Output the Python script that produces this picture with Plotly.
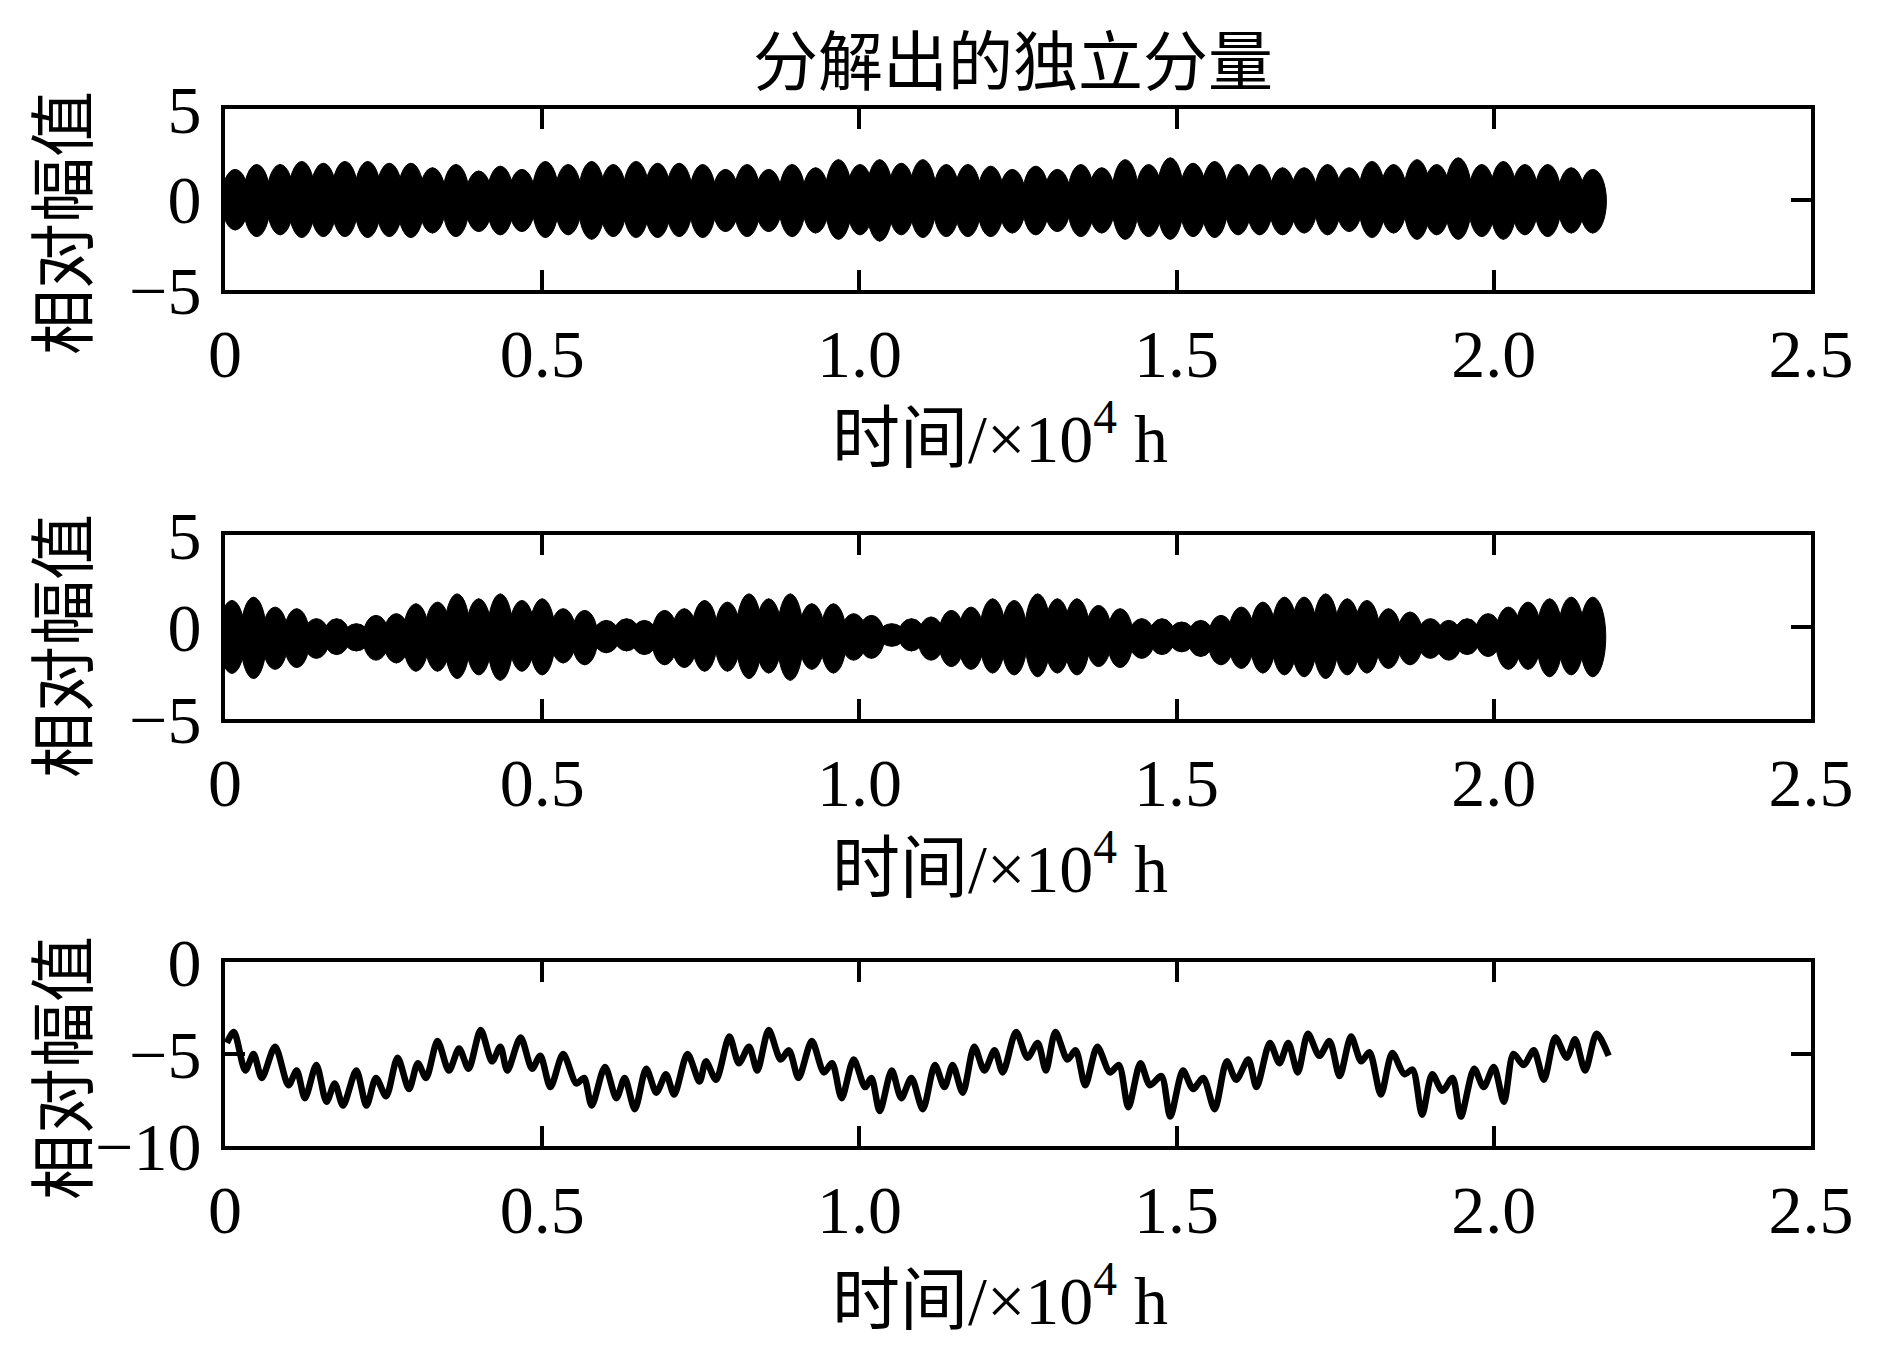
import plotly.graph_objects as go

# ---------------- data ----------------
x_ticks = [0, 0.5, 1.0, 1.5, 2.0, 2.5]
x_ticklabels = ["0", "0.5", "1.0", "1.5", "2.0", "2.5"]
y_ticks_12 = [-5, 0, 5]
y_ticklabels_12 = ["\u22125", "0", "5"]
y_ticks_3 = [-10, -5, 0]
y_ticklabels_3 = ["\u221210", "\u22125", "0"]

title_text = "分解出的独立分量"
y_title = "相对幅值"
x_title = "时间/×10<sup>4</sup> h"

# component 1: dense oscillation -> each visible lobe: time, upper peak, lower peak
p1_x = [-0.018, 0.016, 0.050, 0.087, 0.121, 0.155, 0.189, 0.225, 0.259, 0.293, 0.327, 0.364,
        0.400, 0.434, 0.468, 0.505, 0.541, 0.578, 0.612, 0.648, 0.682, 0.716, 0.753,
        0.789, 0.823, 0.857, 0.894, 0.931, 0.967, 1.001, 1.032, 1.066, 1.100, 1.137,
        1.171, 1.207, 1.241, 1.278, 1.312, 1.349, 1.382, 1.419, 1.456, 1.490, 1.526,
        1.560, 1.597, 1.631, 1.667, 1.701, 1.738, 1.772, 1.808, 1.842, 1.879, 1.910,
        1.944, 1.981, 2.015, 2.049, 2.085, 2.122, 2.156]
p1_up = [1.60, 1.66, 1.93, 1.93, 2.10, 2.00, 2.10, 2.10, 2.00, 2.00, 1.75, 1.93,
         1.57, 1.84, 1.66, 2.10, 1.93, 2.10, 1.93, 2.10, 2.00, 2.00, 1.93,
         1.66, 1.93, 1.66, 1.93, 1.75, 2.20, 1.93, 2.20, 2.00, 2.20, 1.93,
         1.93, 1.84, 1.66, 1.84, 1.66, 1.93, 1.75, 2.20, 1.93, 2.30, 2.00,
         2.10, 1.93, 1.93, 1.75, 1.75, 1.93, 1.75, 2.10, 1.93, 2.20, 1.93,
         2.30, 1.93, 2.10, 1.93, 1.93, 1.75, 1.66]
p1_lo = [-1.60, -1.68, -2.05, -1.95, -2.10, -2.05, -2.05, -2.10, -2.05, -2.10, -1.85, -2.05,
         -1.77, -1.95, -1.77, -2.10, -1.95, -2.20, -2.05, -2.10, -2.10, -2.05, -2.10,
         -1.77, -2.05, -1.77, -2.05, -1.85, -2.20, -1.95, -2.30, -1.95, -2.10, -2.05,
         -2.05, -2.05, -1.85, -1.95, -1.77, -2.05, -1.85, -2.20, -2.05, -2.20, -2.05,
         -2.10, -1.95, -1.95, -1.95, -1.85, -1.95, -1.77, -2.10, -1.85, -2.20, -1.95,
         -2.20, -2.05, -2.20, -1.95, -2.05, -1.85, -1.85]

# component 2
p2_x = [-0.022, 0.011, 0.045, 0.079, 0.113, 0.144, 0.176, 0.207, 0.238, 0.270, 0.301, 0.335, 0.366,
        0.400, 0.434, 0.468, 0.500, 0.533, 0.567, 0.601, 0.633, 0.661, 0.693, 0.724, 0.756,
        0.792, 0.826, 0.857, 0.891, 0.925, 0.959, 0.991, 1.019, 1.051, 1.082, 1.113, 1.145,
        1.176, 1.210, 1.244, 1.281, 1.312, 1.343, 1.377, 1.411, 1.445, 1.477, 1.508,
        1.538, 1.570, 1.602, 1.636, 1.670, 1.701, 1.735, 1.769, 1.800, 1.834, 1.868, 1.900,
        1.929, 1.958, 1.991, 2.023, 2.054, 2.088, 2.122, 2.156]
p2_up = [1.30, 1.44, 1.62, 1.08, 0.99, 0.45, 0.45, 0.18, 0.63, 0.72, 1.26, 1.35, 1.80,
         1.53, 1.80, 1.44, 1.53, 0.99, 0.90, 0.36, 0.45, 0.36, 0.90, 0.99, 1.44,
         1.35, 1.80, 1.53, 1.80, 1.26, 1.26, 0.72, 0.63, 0.18, 0.45, 0.54, 0.90,
         1.08, 1.53, 1.44, 1.80, 1.53, 1.53, 1.17, 0.99, 0.45, 0.45, 0.27,
         0.36, 0.63, 1.08, 1.35, 1.62, 1.62, 1.80, 1.53, 1.44, 0.99, 0.81, 0.45,
         0.36, 0.45, 0.72, 1.08, 1.35, 1.53, 1.62, 1.62]
p2_lo = [-2.40, -2.52, -2.80, -2.30, -2.20, -1.70, -1.50, -1.30, -1.80, -1.95, -2.40, -2.40, -2.80,
         -2.60, -2.90, -2.40, -2.60, -1.95, -2.05, -1.40, -1.30, -1.50, -2.05, -2.20, -2.40,
         -2.40, -2.80, -2.50, -2.90, -2.30, -2.50, -1.80, -1.70, -1.05, -1.30, -1.80, -2.15,
         -2.30, -2.50, -2.60, -2.70, -2.50, -2.60, -2.15, -2.20, -1.70, -1.50, -1.35,
         -1.60, -2.05, -2.25, -2.50, -2.60, -2.70, -2.80, -2.60, -2.50, -2.25, -2.05, -1.70,
         -1.80, -1.50, -1.60, -2.30, -2.30, -2.70, -2.60, -2.70]

# component 3: traced extrema of the line
p3_x = [0.003, 0.014, 0.032, 0.045, 0.058, 0.079, 0.100, 0.113, 0.126, 0.144,
        0.160, 0.173, 0.186, 0.207, 0.223, 0.238, 0.254, 0.272, 0.290, 0.304,
        0.317, 0.335, 0.353, 0.369, 0.384, 0.403, 0.421, 0.434, 0.445, 0.466,
        0.484, 0.497, 0.513, 0.533, 0.554, 0.566, 0.578, 0.599, 0.617, 0.630,
        0.646, 0.664, 0.680, 0.695, 0.708, 0.729, 0.748,
        0.758, 0.774, 0.795, 0.810, 0.826, 0.839, 0.857, 0.876, 0.889, 0.904,
        0.925, 0.944, 0.957, 0.972, 0.991, 1.009, 1.019, 1.032, 1.051, 1.066,
        1.082, 1.100, 1.119, 1.134, 1.147, 1.163, 1.181, 1.197, 1.213, 1.226,
        1.247, 1.265, 1.281, 1.294, 1.309, 1.328, 1.341, 1.356, 1.375, 1.395,
        1.409, 1.424, 1.443, 1.458, 1.476, 1.490, 1.510, 1.526,
        1.542, 1.560, 1.579, 1.594, 1.613, 1.626, 1.647, 1.662, 1.676, 1.691,
        1.707, 1.725, 1.741, 1.757, 1.775, 1.791, 1.804, 1.822, 1.840, 1.859,
        1.872, 1.887, 1.903, 1.919, 1.935, 1.948, 1.969, 1.984, 2.000, 2.016,
        2.031, 2.047, 2.063, 2.079, 2.097, 2.115, 2.128, 2.144, 2.162, 2.181]
p3_y = [-4.4, -3.8, -5.9, -5.0, -6.3, -4.6, -6.7, -5.9, -7.4, -5.6,
        -7.6, -6.6, -7.8, -5.9, -7.8, -6.3, -7.3, -5.2, -6.9, -5.5,
        -6.3, -4.3, -5.9, -4.7, -5.8, -3.7, -5.4, -4.6, -5.9, -4.1,
        -5.8, -5.1, -6.8, -5.0, -6.6, -6.3, -7.8, -5.7, -7.4, -6.3,
        -8.0, -5.8, -7.1, -6.1, -7.2, -5.0, -6.5,
        -5.4, -6.4, -4.05, -5.5, -4.6, -5.9, -3.7, -5.3, -4.8, -6.3,
        -4.3, -6.0, -5.5, -7.4, -5.3, -6.8, -6.3, -8.1, -5.9, -7.4,
        -6.3, -8.0, -5.6, -6.8, -5.6, -7.1, -4.6, -5.9, -4.8, -6.0,
        -3.8, -5.2, -4.4, -5.9, -3.8, -5.3, -4.8, -6.7, -4.6, -6.0,
        -5.6, -7.9, -5.5, -6.7, -6.2, -8.4, -5.9, -6.9,
        -6.3, -8.0, -5.4, -6.4, -5.3, -6.8, -4.4, -5.5, -4.4, -6.0,
        -3.9, -5.1, -4.3, -6.2, -4.05, -5.4, -4.9, -7.2, -4.95, -6.1,
        -5.85, -8.3, -6.1, -7.0, -6.3, -8.4, -5.8, -6.8, -5.7, -7.6,
        -5.0, -5.6, -4.8, -6.4, -4.1, -5.2, -4.2, -5.9, -3.9, -5.1]

assert len(p1_x) == len(p1_up) == len(p1_lo)
assert len(p2_x) == len(p2_up) == len(p2_lo)
assert len(p3_x) == len(p3_y)

# ---------------- styling ----------------
SERIF = "Liberation Serif, Noto Sans CJK SC, serif"
CJK = "Noto Sans CJK SC, Liberation Serif, sans-serif"
W, H = 1890, 1365
LEFT, RIGHT = 217, 1803
PANELS = [(101, 282), (527, 711), (954, 1138)]   # top, bottom in pixels
LOBE_W = [0.043, 0.041]                           # drawn width of one lobe (style)

fig = go.Figure()

shapes = []
for (xs, ups, los, lw, xr, yr) in [(p1_x, p1_up, p1_lo, LOBE_W[0], "x", "y"),
                                   (p2_x, p2_up, p2_lo, LOBE_W[1], "x2", "y2")]:
    for xc, u, l in zip(xs, ups, los):
        shapes.append(dict(type="circle", xref=xr, yref=yr,
                           x0=xc - lw / 2, x1=xc + lw / 2, y0=l, y1=u,
                           fillcolor="black", line=dict(color="black", width=1),
                           layer="above"))

# the lobe peaks as (tiny) trace points, so the band subplots carry their data too
fig.add_trace(go.Scatter(x=p1_x, y=p1_up, mode="markers", marker=dict(size=1, color="black"),
                         xaxis="x", yaxis="y", hoverinfo="skip"))
fig.add_trace(go.Scatter(x=p1_x, y=p1_lo, mode="markers", marker=dict(size=1, color="black"),
                         xaxis="x", yaxis="y", hoverinfo="skip"))
fig.add_trace(go.Scatter(x=p2_x, y=p2_up, mode="markers", marker=dict(size=1, color="black"),
                         xaxis="x2", yaxis="y2", hoverinfo="skip"))
fig.add_trace(go.Scatter(x=p2_x, y=p2_lo, mode="markers", marker=dict(size=1, color="black"),
                         xaxis="x2", yaxis="y2", hoverinfo="skip"))

fig.add_trace(go.Scatter(x=p3_x, y=p3_y, mode="lines",
                         line=dict(color="black", width=6.5, shape="spline", smoothing=0.8),
                         xaxis="x3", yaxis="y3", hoverinfo="skip"))

axis_common = dict(showline=True, linewidth=4, linecolor="black", mirror="ticks",
                   ticks="inside", ticklen=20, tickwidth=4, tickcolor="black",
                   showgrid=False, zeroline=False, automargin=False,
                   tickfont=dict(family=SERIF, size=68, color="black"))

layout = dict(width=W, height=H, margin=dict(l=0, r=0, t=0, b=0, autoexpand=False),
              paper_bgcolor="white", plot_bgcolor="white", showlegend=False)

yranges = [[-5, 5], [-5, 5], [-10, 0]]
yticks = [(y_ticks_12, y_ticklabels_12), (y_ticks_12, y_ticklabels_12), (y_ticks_3, y_ticklabels_3)]
for k, (top, bot) in enumerate(PANELS):
    sfx = "" if k == 0 else str(k + 1)
    dom_y = [1 - bot / H, 1 - top / H]
    layout["xaxis" + sfx] = dict(axis_common, domain=[LEFT / W, RIGHT / W], range=[0, 2.5],
                                 tickvals=x_ticks, ticktext=x_ticklabels,
                                 anchor="y" + sfx, ticklabelstandoff=1)
    layout["yaxis" + sfx] = dict(axis_common, domain=dom_y, range=yranges[k],
                                 tickvals=yticks[k][0], ticktext=yticks[k][1],
                                 anchor="x" + sfx, ticklabelstandoff=6)

fig.update_layout(**layout)
fig.update_layout(shapes=shapes)

ann = [dict(text=title_text, x=1005 / W, y=1.0, xref="paper", yref="paper",
            showarrow=False, font=dict(family=CJK, size=65, color="black"),
            xanchor="center", yanchor="top")]
for yc in [215, 638, 1060]:
    ann.append(dict(text=y_title, x=50 / W, y=1 - yc / H, xref="paper", yref="paper",
                    showarrow=False, textangle=-90,
                    font=dict(family=CJK, size=66, color="black"),
                    xanchor="center", yanchor="middle"))
for yc in [426, 856, 1288]:
    ann.append(dict(text=x_title, x=992 / W, y=1 - yc / H, xref="paper", yref="paper",
                    showarrow=False, font=dict(family=SERIF, size=68, color="black"),
                    xanchor="center", yanchor="middle"))
fig.update_layout(annotations=ann)

fig.write_html("out.html")
